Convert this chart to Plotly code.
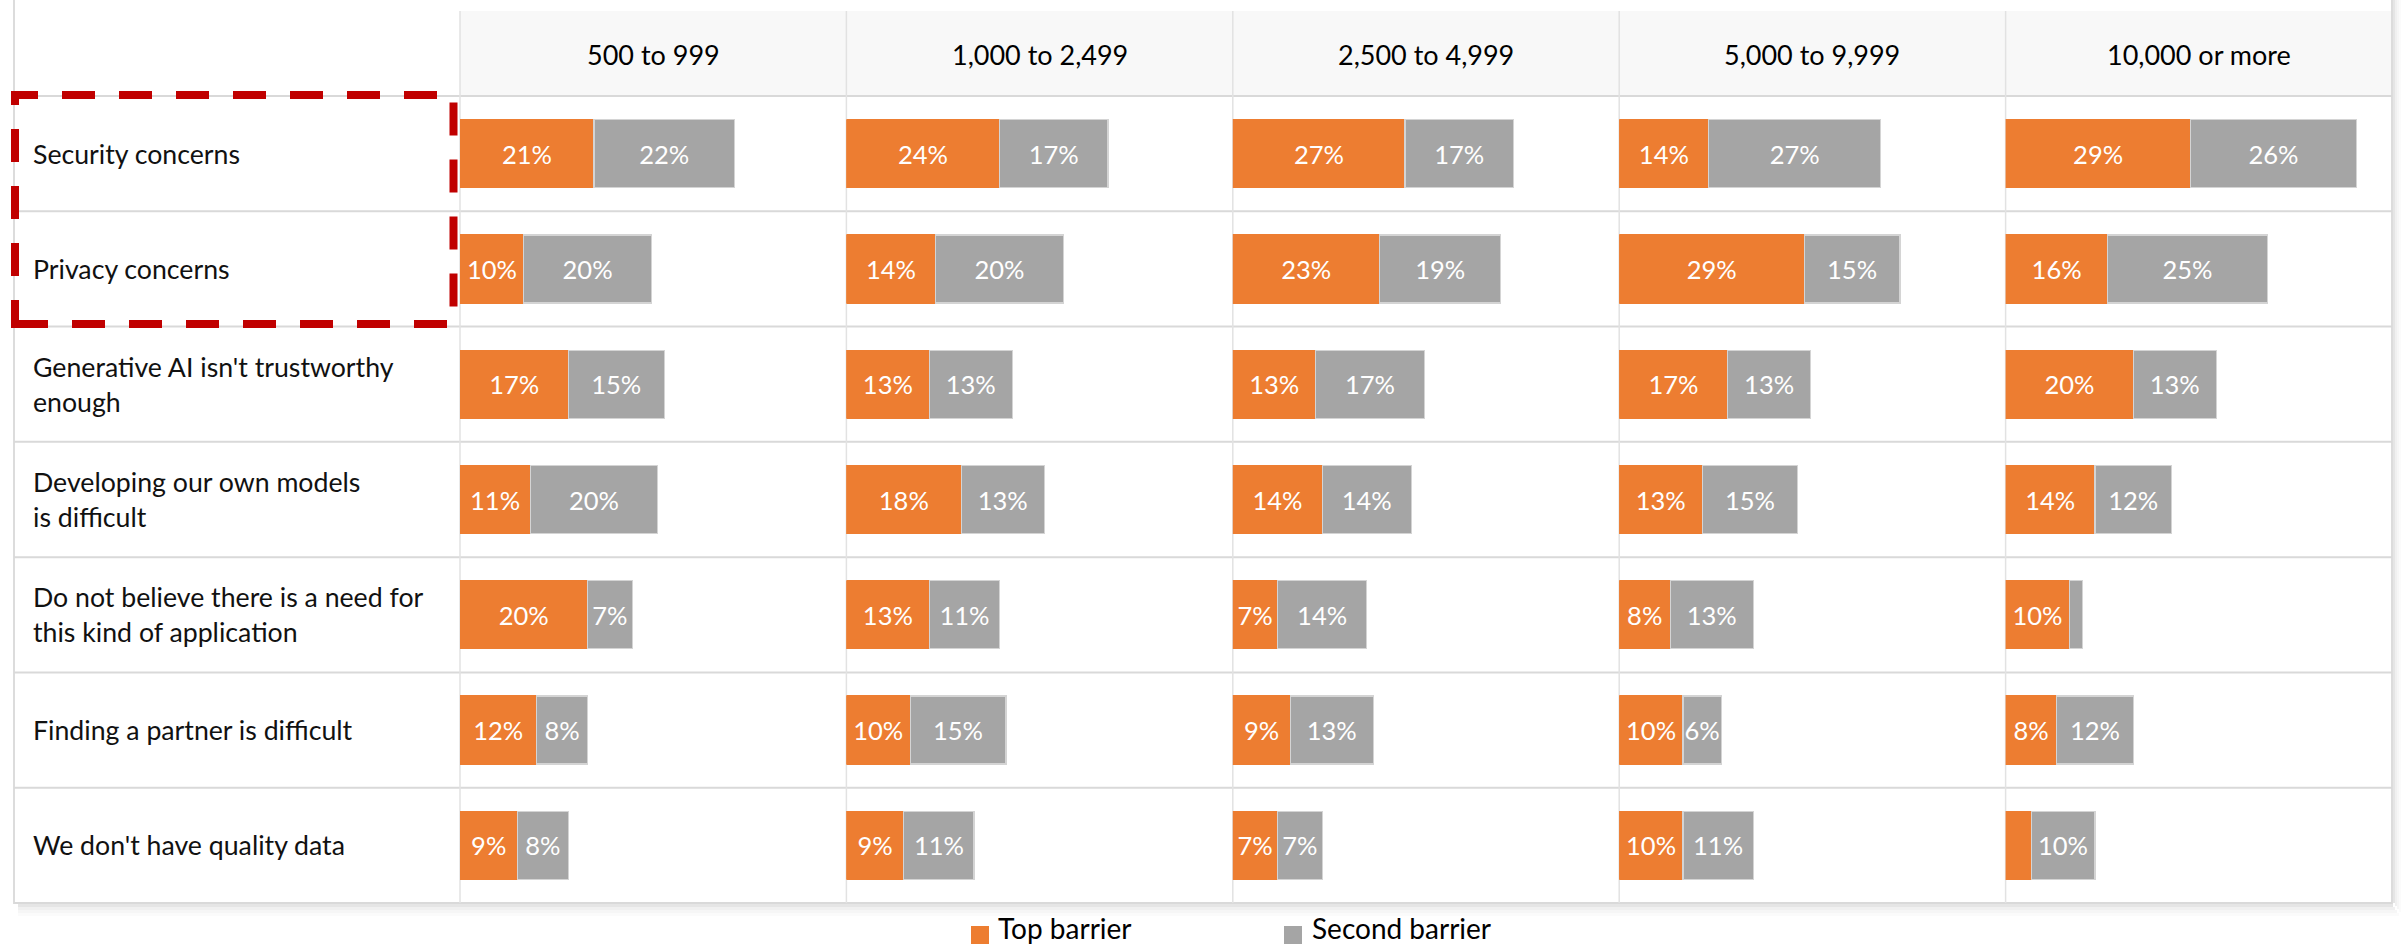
import plotly.graph_objects as go

W, H = 2405, 947

# Company-size bands (table columns)
size_bands = ["500 to 999", "1,000 to 2,499", "2,500 to 4,999", "5,000 to 9,999", "10,000 or more"]

# Barriers (table rows)
barriers = [
    "Security concerns",
    "Privacy concerns",
    "Generative AI isn't trustworthy<br>enough",
    "Developing our own models<br>is difficult",
    "Do not believe there is a need for<br>this kind of application",
    "Finding a partner is difficult",
    "We don't have quality data",
]

# Share of respondents (%) naming each barrier, per company size
top_500_999 = [21, 10, 17, 11, 20, 12, 9]
second_500_999 = [22, 20, 15, 20, 7, 8, 8]

top_1000_2499 = [24, 14, 13, 18, 13, 10, 9]
second_1000_2499 = [17, 20, 13, 13, 11, 15, 11]

top_2500_4999 = [27, 23, 13, 14, 7, 9, 7]
second_2500_4999 = [17, 19, 17, 14, 14, 13, 7]

top_5000_9999 = [14, 29, 17, 13, 8, 10, 10]
second_5000_9999 = [27, 15, 13, 15, 13, 6, 11]

top_10000_plus = [29, 16, 20, 14, 10, 8, 4]
second_10000_plus = [26, 25, 13, 12, 2, 12, 10]

top_series = [top_500_999, top_1000_2499, top_2500_4999, top_5000_9999, top_10000_plus]
second_series = [second_500_999, second_1000_2499, second_2500_4999, second_5000_9999, second_10000_plus]

ORANGE = "#ED7D31"
GREY = "#A5A5A5"
GRID = "#D9D9D9"
FONT = "Lato, 'Open Sans', sans-serif"
MIN_LABEL = 5  # segments below this share carry no label

# table geometry (pixels)
TABLE_LEFT, TABLE_RIGHT = 14, 2392
LABEL_RIGHT = 460
HEADER_TOP, HEADER_BOTTOM, TABLE_BOTTOM = 11, 96, 903
COL_W = (TABLE_RIGHT - LABEL_RIGHT) / len(size_bands)
ROW_H = (TABLE_BOTTOM - HEADER_BOTTOM) / len(barriers)
PX_PER_PCT = 6.38


def px(x):
    return x / W


def py(y):
    return 1 - y / H


fig = go.Figure()
rows = list(range(len(barriers)))

for i, (tops, seconds) in enumerate(zip(top_series, second_series)):
    ax = "x" if i == 0 else f"x{i + 1}"
    for vals, name, color, border in (
        (tops, "Top barrier", ORANGE, ORANGE),
        (seconds, "Second barrier", GREY, "#D4D4D4"),
    ):
        fig.add_trace(go.Bar(
            x=vals, y=rows, orientation="h", name=name,
            xaxis=ax, yaxis="y", width=0.59,
            marker=dict(color=color, line=dict(color=border, width=1.2)),
            text=[f"{v}%" if v >= MIN_LABEL else "" for v in vals],
            textposition="inside", insidetextanchor="middle",
            textangle=0, constraintext="none",
            textfont=dict(family=FONT, size=25.5, color="white"),
            showlegend=False, hoverinfo="skip",
        ))
    x0 = LABEL_RIGHT + i * COL_W
    fig.layout[f"xaxis{'' if i == 0 else i + 1}"] = dict(
        domain=[px(x0), px(x0 + COL_W)],
        range=[0, COL_W / PX_PER_PCT],
        visible=False, fixedrange=True, anchor="y",
    )

fig.update_layout(
    yaxis=dict(domain=[py(TABLE_BOTTOM), py(HEADER_BOTTOM)],
               range=[len(barriers) - 0.5, -0.5], visible=False, fixedrange=True),
    barmode="stack",
    width=W, height=H, autosize=False,
    margin=dict(l=0, r=0, t=0, b=0),
    paper_bgcolor="white", plot_bgcolor="rgba(0,0,0,0)",
    uniformtext=dict(mode="show", minsize=25),
    font=dict(family=FONT),
)

shapes = []
# soft card shadow along the bottom and right edges
for k, op in enumerate([0.10, 0.06, 0.035, 0.015]):
    shapes.append(dict(type="rect", xref="paper", yref="paper", layer="below",
                       x0=px(TABLE_LEFT + 4), x1=px(TABLE_RIGHT + 1 + 2 * k),
                       y0=py(TABLE_BOTTOM + 1 + 3 * k), y1=py(TABLE_BOTTOM + 4 + 3 * k),
                       line=dict(width=0), fillcolor=f"rgba(0,0,0,{op})"))
    shapes.append(dict(type="rect", xref="paper", yref="paper", layer="below",
                       x0=px(TABLE_RIGHT + 1 + 2 * k), x1=px(TABLE_RIGHT + 3 + 2 * k),
                       y0=py(TABLE_BOTTOM + 3 * k), y1=1,
                       line=dict(width=0), fillcolor=f"rgba(0,0,0,{op})"))
# header band
shapes.append(dict(type="rect", xref="paper", yref="paper", layer="below",
                   x0=px(LABEL_RIGHT), x1=px(TABLE_RIGHT), y0=py(HEADER_BOTTOM), y1=py(HEADER_TOP),
                   line=dict(width=0), fillcolor="#F8F8F8"))
# card body outline
shapes.append(dict(type="rect", xref="paper", yref="paper", layer="below",
                   x0=px(TABLE_LEFT), x1=px(TABLE_RIGHT), y0=py(TABLE_BOTTOM), y1=py(-5),
                   line=dict(color="#DCDCDC", width=2)))
# horizontal row rules
for r in range(len(barriers) + 1):
    y = HEADER_BOTTOM + r * ROW_H
    shapes.append(dict(type="line", xref="paper", yref="paper", layer="below",
                       x0=px(TABLE_LEFT), x1=px(TABLE_RIGHT), y0=py(y), y1=py(y),
                       line=dict(color=GRID, width=2)))
# vertical column rules
for c in range(len(size_bands)):
    x = LABEL_RIGHT + c * COL_W
    shapes.append(dict(type="line", xref="paper", yref="paper", layer="below",
                       x0=px(x), x1=px(x), y0=py(HEADER_TOP), y1=py(TABLE_BOTTOM),
                       line=dict(color="#E2E2E2", width=1.5)))
# red dashed highlight around the first two barriers
shapes.append(dict(type="rect", xref="paper", yref="paper",
                   x0=px(15), x1=px(453.5), y0=py(324), y1=py(95),
                   line=dict(color="#C00000", width=8, dash="33px,24px")))
# legend swatches
shapes.append(dict(type="rect", xref="paper", yref="paper",
                   x0=px(971), x1=px(989), y0=py(944), y1=py(926),
                   line=dict(width=0), fillcolor=ORANGE))
shapes.append(dict(type="rect", xref="paper", yref="paper",
                   x0=px(1284), x1=px(1302), y0=py(944), y1=py(926),
                   line=dict(width=0), fillcolor=GREY))
fig.update_layout(shapes=shapes)

annotations = []
for i, band in enumerate(size_bands):
    annotations.append(dict(text=band, xref="paper", yref="paper",
                            x=px(LABEL_RIGHT + (i + 0.5) * COL_W), y=py(55),
                            xanchor="center", yanchor="middle", showarrow=False,
                            font=dict(family=FONT, size=27, color="#000000")))
for r, label in enumerate(barriers):
    annotations.append(dict(text=label, xref="paper", yref="y",
                            x=px(31), y=r, xanchor="left", yanchor="middle", align="left",
                            showarrow=False,
                            font=dict(family=FONT, size=26.7, color="#111111")))
for txt, x in (("Top barrier", 996), ("Second barrier", 1310)):
    annotations.append(dict(text=txt, xref="paper", yref="paper", x=px(x), y=py(928),
                            xanchor="left", yanchor="middle", showarrow=False,
                            font=dict(family=FONT, size=28, color="#000000")))
fig.update_layout(annotations=annotations)

fig.write_html("out.html")
